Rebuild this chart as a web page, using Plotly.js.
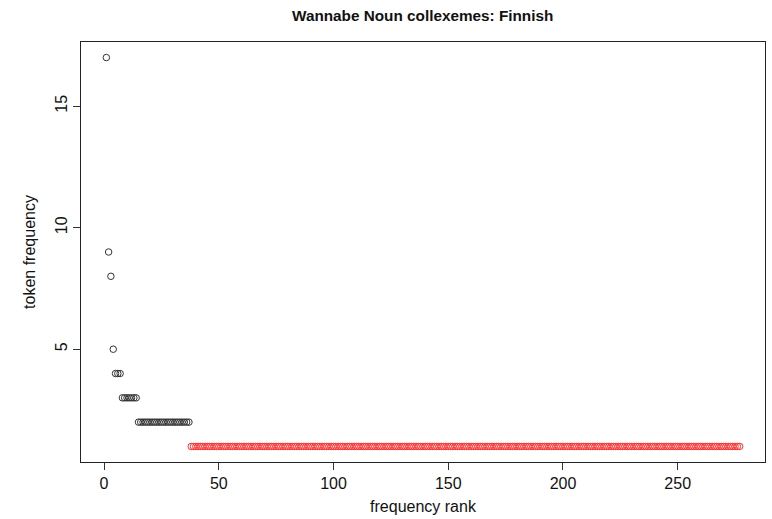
<!DOCTYPE html>
<html>
<head>
<meta charset="utf-8">
<script src="https://cdn.plot.ly/plotly-3.0.1.min.js"></script>
<style>html,body{margin:0;padding:0;background:#fff;}#chart{width:772px;height:519px;}</style>
</head>
<body>
<div id="chart"></div>
<script>
// Token frequency values and how many collexemes (ranks) share each value
var freqValues = [17, 9, 8, 5, 4, 3, 2, 1];
var freqCounts = [1, 1, 1, 1, 3, 7, 23, 240];
var xTicks = [0, 50, 100, 150, 200, 250];
var yTicks = [5, 10, 15];
var chartTitle = 'Wannabe Noun collexemes: Finnish';
var xLabel = 'frequency rank';
var yLabel = 'token frequency';

// Expand into rank-ordered token frequencies
var tokenFreq = [];
freqValues.forEach(function (v, i) {
  for (var k = 0; k < freqCounts[i]; k++) tokenFreq.push(v);
});
var ranks = tokenFreq.map(function (_, i) { return i + 1; });

var bx = [], by = [], rx = [], ry = [];
tokenFreq.forEach(function (v, i) {
  if (v === 1) { rx.push(ranks[i]); ry.push(v); }
  else { bx.push(ranks[i]); by.push(v); }
});

var font = {family: 'Liberation Sans, Arial, sans-serif', size: 16, color: '#111'};

var traces = [
  {x: bx, y: by, type: 'scatter', mode: 'markers',
   marker: {symbol: 'circle-open', size: 6.5, color: '#333', line: {width: 1}}, hoverinfo: 'x+y'},
  {x: rx, y: ry, type: 'scatter', mode: 'markers',
   marker: {symbol: 'circle-open', size: 6.5, color: '#ff3030', line: {width: 1}}, hoverinfo: 'x+y'}
];

var dataMin = 1, dataMaxX = ranks.length;
var padX = (dataMaxX - dataMin) * 0.04;
var yMin = Math.min.apply(null, tokenFreq), yMax = Math.max.apply(null, tokenFreq);
var padY = (yMax - yMin) * 0.04;

var layout = {
  width: 772, height: 519,
  margin: {l: 81, r: 7, t: 42, b: 57},
  paper_bgcolor: '#fff', plot_bgcolor: '#fff',
  showlegend: false,
  font: font,
  title: {text: '<b>' + chartTitle + '</b>', font: {family: font.family, size: 15.3, color: '#111'},
          x: 0.5475, xref: 'container', xanchor: 'center', y: 1 - 16 / 519, yref: 'container', yanchor: 'middle'},
  xaxis: {
    range: [dataMin - padX, dataMaxX + padX],
    tickmode: 'array', tickvals: xTicks, ticktext: xTicks.map(String),
    ticks: 'outside', ticklen: 7, tickwidth: 1, tickcolor: '#333',
    showline: true, linecolor: '#222', linewidth: 1, mirror: true,
    showgrid: false, zeroline: false,
    tickfont: font,
    title: {text: xLabel, font: font, standoff: 9}
  },
  yaxis: {
    range: [yMin - padY, yMax + padY],
    tickmode: 'array', tickvals: yTicks, ticktext: yTicks.map(String),
    tickangle: -90,
    ticks: 'outside', ticklen: 7, tickwidth: 1, tickcolor: '#333',
    showline: true, linecolor: '#222', linewidth: 1, mirror: true,
    showgrid: false, zeroline: false,
    tickfont: font,
    title: {text: yLabel, font: font, standoff: 12}
  }
};

Plotly.newPlot('chart', traces, layout, {displayModeBar: false, staticPlot: true});
</script>
</body>
</html>
